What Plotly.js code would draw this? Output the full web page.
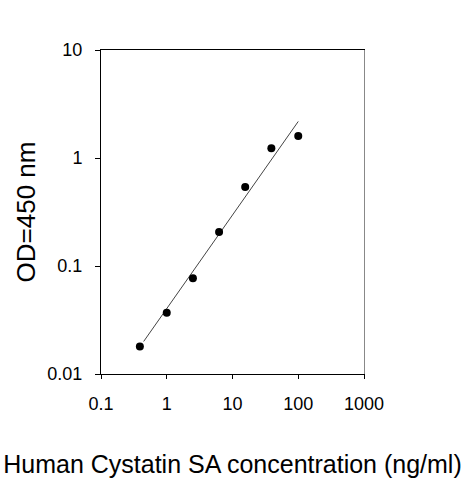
<!DOCTYPE html>
<html>
<head>
<meta charset="utf-8">
<script src="https://cdn.plot.ly/plotly-3.0.1.min.js"></script>
<style>
  html, body { margin: 0; padding: 0; background: #fff; }
  #chart { width: 463px; height: 480px; }
</style>
</head>
<body>
<div id="chart"></div>
<script>
// standard curve points (ng/ml vs OD at 450 nm)
var conc = [0.39, 1.0, 2.5, 6.25, 15.6, 39, 100];
var od = [0.018, 0.037, 0.077, 0.207, 0.54, 1.23, 1.6];

// fitted line ends
var fitX = [0.445, 100];
var fitY = [0.020, 2.18];

var xTicks = [0.1, 1, 10, 100, 1000];
var xTickText = ['0.1', '1', '10', '100', '1000'];
var yTicks = [0.01, 0.1, 1, 10];
var yTickText = ['0.01', '0.1', '1', '10'];

var font = 'Liberation Sans, Arial, sans-serif';

var traces = [
  {
    x: fitX, y: fitY,
    type: 'scatter', mode: 'lines',
    line: {color: '#444', width: 1},
    hoverinfo: 'skip'
  },
  {
    x: conc, y: od,
    type: 'scatter', mode: 'markers',
    marker: {color: '#000', size: 8}
  },
  {
    // dummy trace so the right-hand frame axis is drawn
    x: [], y: [], yaxis: 'y2', type: 'scatter'
  }
];

var layout = {
  width: 463, height: 480,
  margin: {l: 101, r: 99, t: 50, b: 106, pad: 0},
  paper_bgcolor: '#fff', plot_bgcolor: '#fff',
  showlegend: false,
  font: {family: font, color: '#000', size: 18},
  xaxis: {
    type: 'log',
    range: [-1, 3],
    tickvals: xTicks, ticktext: xTickText,
    ticks: 'outside', ticklen: 4, tickwidth: 1, tickcolor: '#000',
    ticklabelstandoff: 9,
    showline: true, linecolor: '#000', linewidth: 1,
    mirror: true,
    showgrid: false, zeroline: false,
    tickfont: {size: 18},
    title: {text: 'Human Cystatin SA concentration (ng/ml)', font: {size: 25}, standoff: 42}
  },
  yaxis: {
    type: 'log',
    range: [-2, 1],
    tickvals: yTicks, ticktext: yTickText,
    ticks: 'outside', ticklen: 5, tickwidth: 1, tickcolor: '#000',
    ticklabelstandoff: 9,
    showline: true, linecolor: '#000', linewidth: 1,
    showgrid: false, zeroline: false,
    tickfont: {size: 18},
    title: {text: 'OD=450 nm', font: {size: 26}, standoff: 4}
  },
  yaxis2: {
    type: 'log',
    range: [-2, 1],
    overlaying: 'y', side: 'right',
    showline: true, linecolor: '#888', linewidth: 1,
    showticklabels: false, ticks: '',
    showgrid: false, zeroline: false
  }
};

Plotly.newPlot('chart', traces, layout, {displayModeBar: false, staticPlot: true});
</script>
</body>
</html>
